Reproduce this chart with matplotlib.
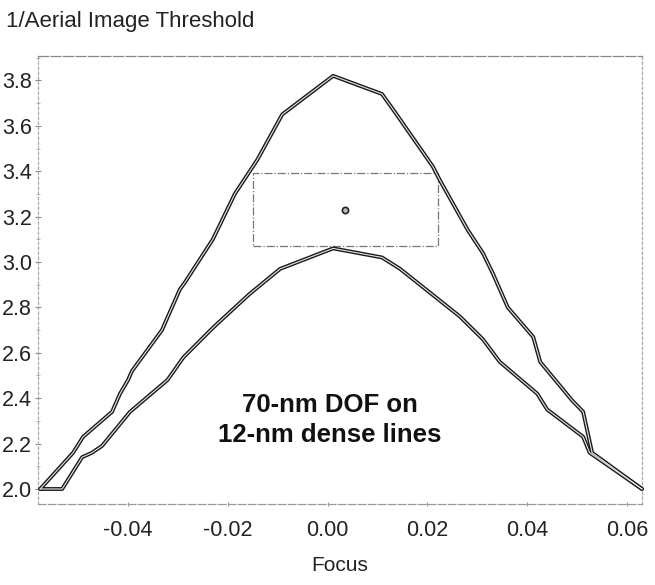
import matplotlib
matplotlib.use("Agg")
import matplotlib.pyplot as plt
from matplotlib.patches import Rectangle
from matplotlib.ticker import MultipleLocator

plt.rcParams['font.family'] = ['Liberation Sans', 'DejaVu Sans']

# Data
upper_focus = [-0.0576, -0.0510, -0.0490, -0.0432, -0.0416, -0.0400, -0.0392, -0.0332,
               -0.0296, -0.0286, -0.0230, -0.0186, -0.0141, -0.0091, -0.0055, 0.0011,
               0.0109, 0.0135, 0.0211, 0.0225, 0.0281, 0.0299, 0.0311, 0.0331, 0.0361,
               0.0412, 0.0426, 0.0490, 0.0512, 0.0530, 0.0630]
upper_thr = [2.00, 2.16, 2.23, 2.34, 2.42, 2.48, 2.52, 2.70, 2.88, 2.91, 3.10, 3.30,
             3.45, 3.65, 3.71, 3.82, 3.74, 3.66, 3.42, 3.36, 3.14, 3.08, 3.04, 2.95,
             2.80, 2.67, 2.56, 2.39, 2.34, 2.16, 2.00]

lower_focus = [-0.0576, -0.0532, -0.0492, -0.0472, -0.0452, -0.0396, -0.0321, -0.0289,
               -0.0230, -0.0156, -0.0095, 0.0011, 0.0109, 0.0145, 0.0225, 0.0265,
               0.0311, 0.0345, 0.0420, 0.0440, 0.0512, 0.0525, 0.0630]
lower_thr = [2.00, 2.00, 2.14, 2.16, 2.19, 2.34, 2.48, 2.58, 2.71, 2.86, 2.97, 3.06,
             3.02, 2.97, 2.83, 2.76, 2.66, 2.56, 2.42, 2.35, 2.23, 2.16, 2.00]

window_focus = [-0.0149, 0.0221]     # process window box (focus range)
window_thr = [3.070, 3.392]          # process window box (threshold range)
center_point = (0.0035, 3.229)

x_ticks = [-0.04, -0.02, 0.00, 0.02, 0.04, 0.06]
x_tick_labels = ['-0.04', '-0.02', '0.00', '0.02', '0.04', '0.06']
y_ticks = [2.0, 2.2, 2.4, 2.6, 2.8, 3.0, 3.2, 3.4, 3.6, 3.8]

fig = plt.figure(figsize=(6.55, 5.85), dpi=100)
ax = fig.add_axes([38/655, 1-504/585, 604/655, 448/585])

for fx, ty in [(upper_focus, upper_thr), (lower_focus, lower_thr)]:
    ax.plot(fx, ty, color='#1a1a1a', lw=2.8, solid_joinstyle='round',
            solid_capstyle='round', clip_on=False, zorder=3)
    ax.plot(fx, ty, color='#e6e6e6', lw=0.8, solid_joinstyle='round',
            clip_on=False, zorder=4)

ax.add_patch(Rectangle((window_focus[0], window_thr[0]),
                       window_focus[1]-window_focus[0], window_thr[1]-window_thr[0],
                       fill=False, edgecolor='#777777', lw=0.9, linestyle='-.', zorder=2))
ax.plot([center_point[0]], [center_point[1]], marker='o', ms=4.5, mfc='#bbbbbb',
        mec='#222222', mew=1.2, zorder=5)

ax.text(0.0005, 2.305, '70-nm DOF on\n12-nm dense lines', ha='center', va='center',
        fontsize=18.5, fontweight='bold', linespacing=1.3, color='#111111')

ax.set_xlim(-0.05804, 0.0630)
ax.set_ylim(1.9339, 3.9075)
ax.set_xticks(x_ticks)
ax.set_xticklabels(x_tick_labels)
ax.set_yticks(y_ticks)
ax.set_yticklabels([f'{v:.1f}' for v in y_ticks])
ax.yaxis.set_minor_locator(MultipleLocator(0.1))

ax.tick_params(axis='x', which='major', direction='inout', length=3, color='#999999',
               labelsize=15.5, pad=10, labelcolor='#222222')
ax.tick_params(axis='y', which='major', direction='inout', length=5, color='#888888',
               labelsize=15.5, pad=2, labelcolor='#222222')
ax.tick_params(axis='y', which='minor', direction='inout', length=3, color='#aaaaaa')

for side, ls, col in [('top', (0, (8, 2)), '#888888'), ('bottom', (0, (6, 2)), '#999999'),
                      ('left', (0, (2, 2)), '#aaaaaa'), ('right', (0, (2, 2)), '#aaaaaa')]:
    ax.spines[side].set_linestyle(ls)
    ax.spines[side].set_color(col)
    ax.spines[side].set_linewidth(0.9)

ax.set_xlabel('Focus', fontsize=15, labelpad=11, color='#222222')
fig.text(6/655, 1-22/585, '1/Aerial Image Threshold', fontsize=16, va='center',
         ha='left', color='#222222')

fig.savefig('out.png', dpi=100)
